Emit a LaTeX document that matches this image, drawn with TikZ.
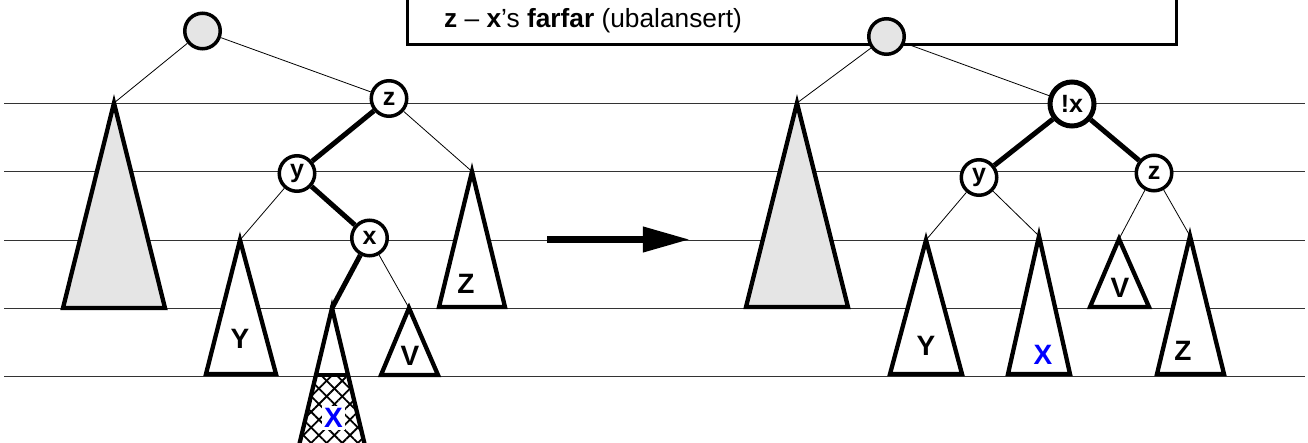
\documentclass[tikz,border=0pt]{standalone}
\usepackage{fontspec}
\setmainfont{Liberation Sans}
\usetikzlibrary{patterns.meta}
\definecolor{lgray}{RGB}{229,229,229}
\definecolor{xblue}{RGB}{0,0,255}
\tikzset{
  vnode/.style={circle,draw,line width=3.5pt,fill=white,minimum size=35.5pt,inner sep=0pt,font=\bfseries\fontsize{25}{25}\selectfont},
  rootnode/.style={vnode,fill=lgray},
  bignode/.style={vnode,line width=5pt,minimum size=44pt},
  tri/.style={draw,line width=4.3pt,line join=miter,fill=white},
  gtri/.style={tri,fill=lgray},
  thin/.style={line width=0.8pt},
  thick/.style={line width=5pt},
  level/.style={line width=0.9pt,black!80},
  tlabel/.style={font=\bfseries\fontsize{28}{28}\selectfont,inner sep=1pt},
  xlabel/.style={tlabel,text=xblue},
}
\begin{document}
\begin{tikzpicture}[x=1pt,y=-1pt]
\clip (0,0) rectangle (1308,443);
% level lines
\foreach \yy in {103,171.5,240,308,376}
  \draw[level] (4,\yy) -- (1305,\yy);
% caption box
\draw[line width=3pt,fill=white] (407,-20) rectangle (1176,45);
\node[anchor=base west,inner sep=0pt,font=\fontsize{26.3}{26}\selectfont] (cap) at (444,28)
  {\textbf{z} -- \textbf{x}’s \textbf{farfar} (ubalansert)};

% ---------- left tree ----------
\coordinate (LGa) at (114,103);
\coordinate (LYa) at (240,240);
\coordinate (LZa) at (472,171.5);
\coordinate (LVa) at (409,308);
\coordinate (LXa) at (332,308);
\draw[gtri] (LGa) -- (63,308) -- (165,308) -- cycle;
\draw[tri] (LYa) -- (206,374) -- (276,374) -- cycle;
\draw[tri] (LZa) -- (439,307) -- (505,307) -- cycle;
\draw[tri] (LVa) -- (381,375) -- (438,375) -- cycle;
\fill[white] (LXa) -- (286,500) -- (378,500) -- cycle;
\begin{scope}
  \clip (0,375) rectangle (1308,600);
  \fill[pattern={Lines[angle=45,distance=11pt,line width=1.8pt]}] (LXa) -- (286,500) -- (378,500) -- cycle;
  \fill[pattern={Lines[angle=-45,distance=11pt,line width=1.8pt]}] (LXa) -- (286,500) -- (378,500) -- cycle;
\end{scope}
\draw[tri,fill=none] (LXa) -- (286,500) -- (378,500) -- cycle;
\draw[line width=4pt] (316,375) -- (349,375);
\node[tlabel] (lY) at (240,339) {Y};
\node[tlabel] (lZ) at (466,284) {Z};
\node[tlabel] (lV) at (410,356) {V};
\node[xlabel,fill=white,inner sep=2.5pt] (lX) at (333.5,418) {X};

\node[rootnode] (lr) at (202.5,31) {};
\node[vnode] (lz) at (389,98.5) {z};
\node[vnode] (ly) at (297,173.5) {y};
\node[vnode] (lx) at (369.5,238) {x};
\draw[thin] (lr) -- (LGa);
\draw[thin] (lr) -- (lz);
\draw[thick] (lz) -- (ly);
\draw[thin] (lz) -- (LZa);
\draw[thin] (ly) -- (LYa);
\draw[thick] (ly) -- (lx);
\draw[thick] (lx) -- (LXa);
\draw[thin] (lx) -- (LVa);

% ---------- arrow ----------
\coordinate (A1) at (547,239.5);
\coordinate (A2) at (684,239.5);
\draw[line width=7pt] (A1) -- (645,239.5);
\draw[line width=2.5pt,line join=miter,fill=black] (644,228) -- (A2) -- (644,251) -- cycle;

% ---------- right tree ----------
\coordinate (RGa) at (797,103);
\coordinate (RYa) at (926,240);
\coordinate (RXa) at (1039,236);
\coordinate (RVa) at (1119,239);
\coordinate (RZa) at (1190,236);
\draw[gtri] (RGa) -- (746,307) -- (848,307) -- cycle;
\draw[tri] (RYa) -- (890,374) -- (962,374) -- cycle;
\draw[tri] (RXa) -- (1008,374) -- (1070,374) -- cycle;
\draw[tri] (RVa) -- (1090,307) -- (1149,307) -- cycle;
\draw[tri] (RZa) -- (1157,374) -- (1224,374) -- cycle;
\node[tlabel] (rY) at (926,346) {Y};
\node[xlabel] (rX) at (1043,355) {X};
\node[tlabel] (rV) at (1120,288) {V};
\node[tlabel] (rZ) at (1183,351) {Z};

\node[rootnode] (rr) at (886.5,36.5) {};
\node[bignode] (rx) at (1072,104) {!x};
\node[vnode] (ry) at (979,177.5) {y};
\node[vnode] (rz) at (1154,173) {z};
\draw[thin] (rr) -- (RGa);
\draw[thin] (rr) -- (rx);
\draw[thick] (rx) -- (ry);
\draw[thick] (rx) -- (rz);
\draw[thin] (ry) -- (RYa);
\draw[thin] (ry) -- (RXa);
\draw[thin] (rz) -- (RVa);
\draw[thin] (rz) -- (RZa);
\end{tikzpicture}
\end{document}
